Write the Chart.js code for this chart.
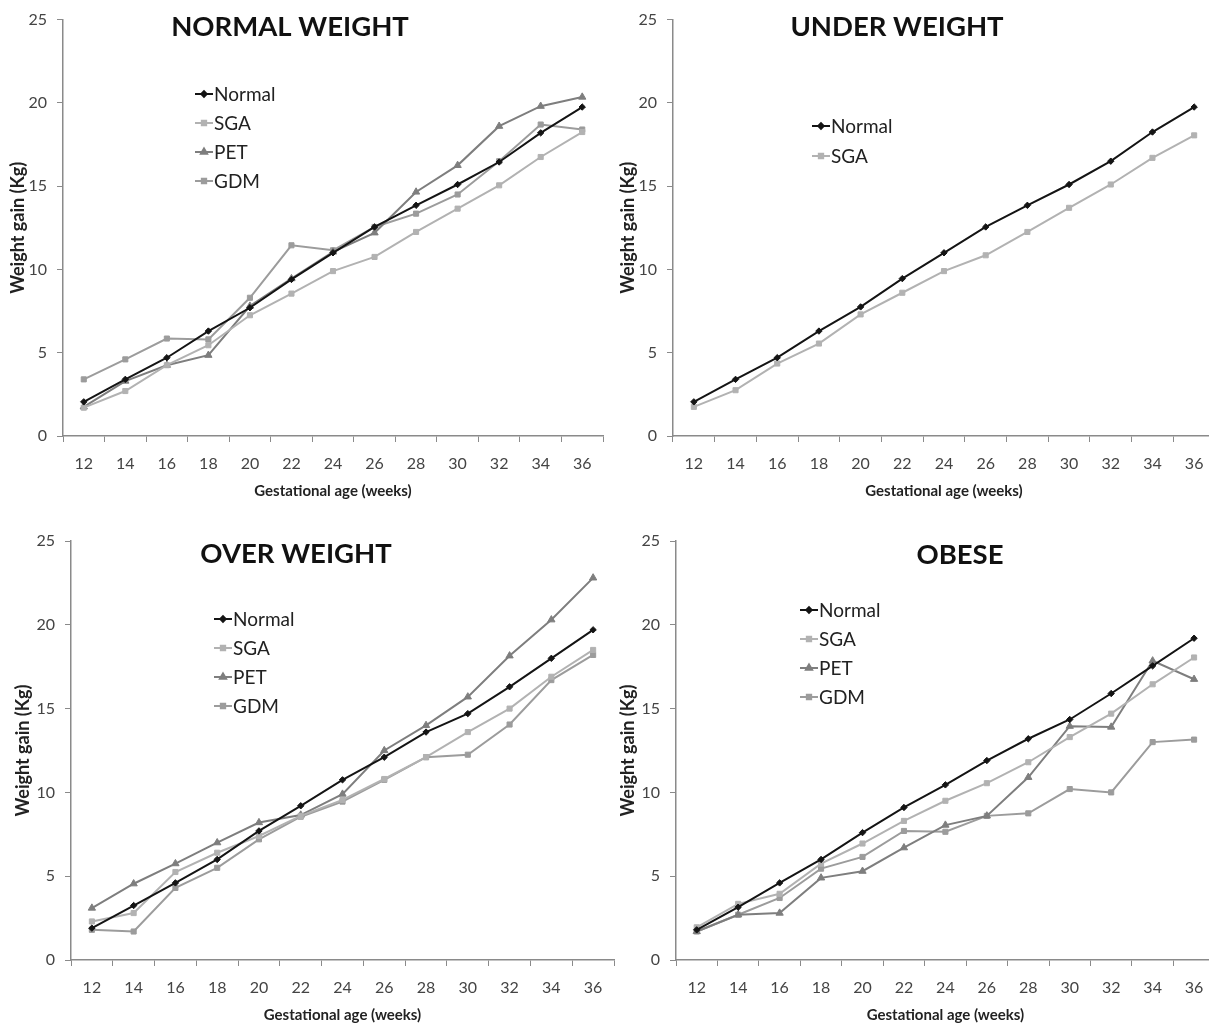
<!DOCTYPE html>
<html>
<head>
<meta charset="utf-8">
<script src="https://cdn.jsdelivr.net/npm/chart.js@4.4.1/dist/chart.umd.min.js"></script>
<style>
  html, body { margin: 0; padding: 0; background: #fff; overflow: hidden; width: 1209px; height: 1030px; }
  canvas { position: absolute; }
</style>
</head>
<body>
<canvas id="c1" width="610" height="510" style="left:0;top:0"></canvas>
<canvas id="c2" width="610" height="510" style="left:610px;top:0"></canvas>
<canvas id="c3" width="620" height="510" style="left:0;top:520px"></canvas>
<canvas id="c4" width="610" height="510" style="left:610px;top:520px"></canvas>
<script>
// gestational age categories
const weeks = ['12', '14', '16', '18', '20', '22', '24', '26', '28', '30', '32', '34', '36'];
const yTickValues = [0, 5, 10, 15, 20, 25];

// normal weight mothers
const nwNormal = [2.05, 3.4, 4.7, 6.3, 7.7, 9.4, 11.0, 12.55, 13.85, 15.1, 16.45, 18.2, 19.75];
const nwSGA    = [1.7, 2.7, 4.25, 5.45, 7.25, 8.55, 9.9, 10.75, 12.25, 13.65, 15.05, 16.75, 18.25];
const nwPET    = [1.75, 3.3, 4.25, 4.85, 7.8, 9.45, 11.05, 12.2, 14.65, 16.25, 18.6, 19.8, 20.35];
const nwGDM    = [3.4, 4.6, 5.85, 5.8, 8.3, 11.45, 11.15, 12.55, 13.35, 14.5, 16.5, 18.7, 18.4];

// under weight mothers
const uwNormal = [2.05, 3.4, 4.7, 6.3, 7.75, 9.45, 11.0, 12.55, 13.85, 15.1, 16.5, 18.25, 19.75];
const uwSGA    = [1.75, 2.75, 4.35, 5.55, 7.3, 8.6, 9.9, 10.85, 12.25, 13.7, 15.1, 16.7, 18.05];

// over weight mothers
const owNormal = [1.9, 3.25, 4.6, 6.0, 7.7, 9.2, 10.75, 12.1, 13.6, 14.7, 16.3, 18.0, 19.7];
const owSGA    = [2.3, 2.8, 5.25, 6.4, 7.4, 8.6, 9.55, 10.8, 12.1, 13.6, 15.0, 16.9, 18.5];
const owPET    = [3.1, 4.55, 5.75, 7.0, 8.2, 8.65, 9.9, 12.5, 14.0, 15.7, 18.15, 20.3, 22.8];
const owGDM    = [1.8, 1.7, 4.3, 5.5, 7.2, 8.55, 9.45, 10.75, 12.1, 12.25, 14.05, 16.7, 18.2];

// obese mothers
const obNormal = [1.8, 3.15, 4.6, 6.0, 7.6, 9.1, 10.45, 11.9, 13.2, 14.35, 15.9, 17.55, 19.2];
const obSGA    = [1.95, 3.35, 3.95, 5.75, 6.95, 8.3, 9.5, 10.55, 11.8, 13.3, 14.7, 16.45, 18.05];
const obPET    = [1.7, 2.7, 2.8, 4.9, 5.3, 6.7, 8.05, 8.6, 10.9, 13.95, 13.9, 17.85, 16.75];
const obGDM    = [1.7, 2.7, 3.7, 5.45, 6.15, 7.7, 7.65, 8.6, 8.75, 10.2, 10.0, 13.0, 13.15];

const seriesStyle = {
  Normal: { color: '#141414', pointStyle: 'rectRot', radius: 3.2 },
  SGA:    { color: '#b2b2b2', pointStyle: 'rect', radius: 3.6 },
  PET:    { color: '#7e7e7e', pointStyle: 'triangle', radius: 4.2 },
  GDM:    { color: '#9c9c9c', pointStyle: 'rect', radius: 3.6 }
};

const FONT = 'Lato, "Open Sans", sans-serif';

// draws the panel heading and the in-plot legend
const decorPlugin = {
  id: 'decor',
  afterDatasetsDraw(chart, args, opts) {
    const ctx = chart.ctx;
    ctx.save();
    ctx.fillStyle = '#111';
    ctx.font = 'bold 27.5px ' + FONT;
    ctx.textAlign = 'center';
    ctx.textBaseline = 'middle';
    ctx.fillText(opts.title, opts.titleX, opts.titleY);

    ctx.font = '19px ' + FONT;
    ctx.textAlign = 'left';
    chart.data.datasets.forEach((ds, i) => {
      const y = opts.legendY + i * opts.legendGap;
      const x = opts.legendX;
      ctx.strokeStyle = ds.borderColor;
      ctx.fillStyle = ds.borderColor;
      ctx.lineWidth = 2;
      ctx.beginPath();
      ctx.moveTo(x, y);
      ctx.lineTo(x + 18, y);
      ctx.stroke();
      Chart.helpers.drawPoint(ctx, {
        pointStyle: ds.pointStyle, radius: ds.pointRadius * 0.85, rotation: 0, borderWidth: 1
      }, x + 9, y);
      ctx.fillStyle = '#222';
      ctx.fillText(ds.label, x + 19, y + 1);
    });
    ctx.restore();
  }
};

function makeChart(id, series, cfg) {
  const datasets = series.map(s => {
    const st = seriesStyle[s.label];
    return {
      label: s.label,
      data: s.data,
      borderColor: st.color,
      backgroundColor: st.color,
      borderWidth: 2,
      pointStyle: st.pointStyle,
      pointRadius: st.radius,
      pointBorderWidth: 1,
      tension: 0
    };
  });

  new Chart(document.getElementById(id).getContext('2d'), {
    type: 'line',
    data: { labels: weeks, datasets: datasets },
    plugins: [decorPlugin],
    options: {
      responsive: false,
      animation: false,
      layout: { padding: { top: cfg.padTop, right: cfg.padRight, left: 0, bottom: 0 } },
      plugins: {
        legend: { display: false },
        tooltip: { enabled: false },
        decor: cfg.decor
      },
      scales: {
        x: {
          offset: true,
          grid: { offset: true, drawOnChartArea: false, color: '#8a8a8a', tickLength: 6 },
          border: { color: '#8a8a8a', width: 1.5 },
          ticks: { color: '#444', font: { family: FONT, size: 16 }, padding: 12, maxRotation: 0 },
          title: {
            display: true, text: 'Gestational age (weeks)', color: '#222',
            font: { family: FONT, size: 15, weight: 'bold' }, padding: { top: 0, bottom: cfg.xTitleBottom }
          },
          afterFit: s => { s.height = cfg.xHeight; }
        },
        y: {
          min: 0,
          max: 25,
          afterBuildTicks: s => { s.ticks = yTickValues.map(v => ({ value: v })); },
          grid: { drawOnChartArea: false, color: '#8a8a8a', tickLength: 6 },
          border: { color: '#8a8a8a', width: 1.5 },
          ticks: { color: '#444', font: { family: FONT, size: 16 }, padding: 10 },
          title: {
            display: true, text: 'Weight gain (Kg)', color: '#222',
            font: { family: FONT, size: 18, weight: 'bold' }, padding: { top: cfg.yTitleLeft, bottom: 0 }
          },
          afterFit: s => { s.width = cfg.yWidth; }
        }
      }
    }
  });
}

makeChart('c1', [
  { label: 'Normal', data: nwNormal },
  { label: 'SGA', data: nwSGA },
  { label: 'PET', data: nwPET },
  { label: 'GDM', data: nwGDM }
], {
  padTop: 17, padRight: 7, xHeight: 74, yWidth: 63, xTitleBottom: 10, yTitleLeft: 7,
  decor: { title: 'NORMAL WEIGHT', titleX: 290, titleY: 27, legendX: 195, legendY: 94, legendGap: 29 }
});

makeChart('c2', [
  { label: 'Normal', data: uwNormal },
  { label: 'SGA', data: uwSGA }
], {
  padTop: 17, padRight: 0, xHeight: 74, yWidth: 63, xTitleBottom: 10, yTitleLeft: 7,
  decor: { title: 'UNDER WEIGHT', titleX: 287, titleY: 27, legendX: 202, legendY: 126, legendGap: 30 }
});

makeChart('c3', [
  { label: 'Normal', data: owNormal },
  { label: 'SGA', data: owSGA },
  { label: 'PET', data: owPET },
  { label: 'GDM', data: owGDM }
], {
  padTop: 21, padRight: 6, xHeight: 70, yWidth: 71, xTitleBottom: 6, yTitleLeft: 12,
  decor: { title: 'OVER WEIGHT', titleX: 296, titleY: 34, legendX: 214, legendY: 99, legendGap: 29 }
});

makeChart('c4', [
  { label: 'Normal', data: obNormal },
  { label: 'SGA', data: obSGA },
  { label: 'PET', data: obPET },
  { label: 'GDM', data: obGDM }
], {
  padTop: 21, padRight: 0, xHeight: 70, yWidth: 66, xTitleBottom: 6, yTitleLeft: 7,
  decor: { title: 'OBESE', titleX: 350, titleY: 35, legendX: 190, legendY: 90, legendGap: 29 }
});
</script>
</body>
</html>
